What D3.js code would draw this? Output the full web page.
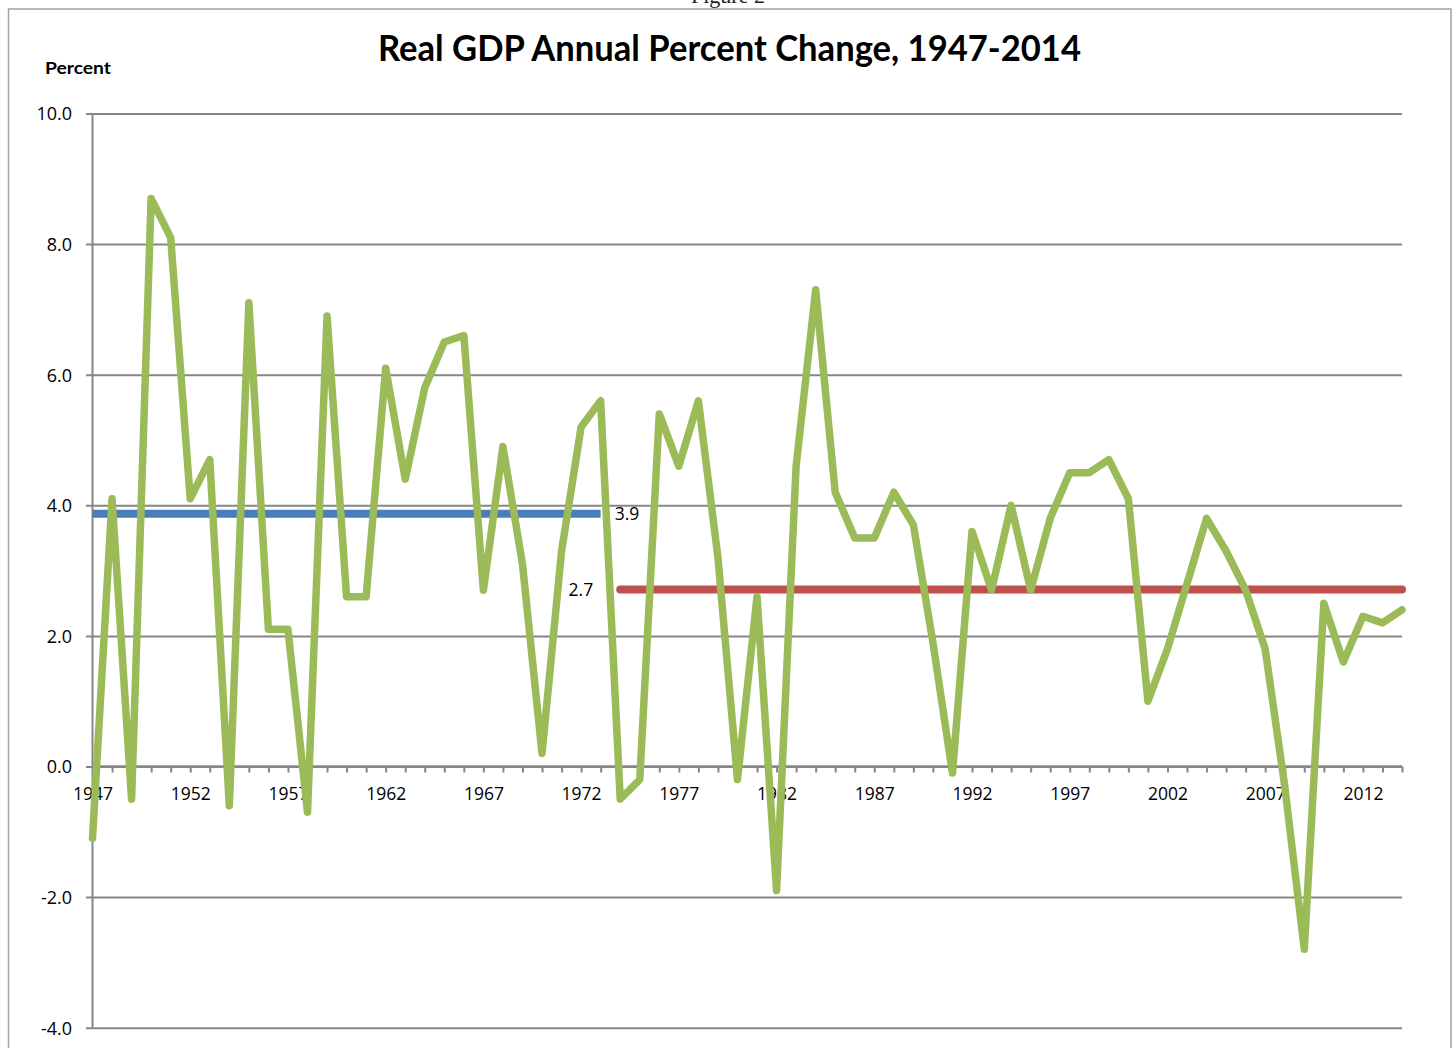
<!DOCTYPE html>
<html>
<head>
<meta charset="utf-8">
<script src="https://cdn.jsdelivr.net/npm/d3@7"></script>
<style>
  html, body { margin: 0; padding: 0; background: #fff; }
  svg { display: block; }
</style>
</head>
<body>
<svg id="chart" width="1456" height="1048"></svg>
<script>
const years = d3.range(1947, 2015);
const gdpChange = [
  -1.1, 4.1, -0.5, 8.7, 8.1, 4.1, 4.7, -0.6, 7.1, 2.1,
   2.1, -0.7, 6.9, 2.6, 2.6, 6.1, 4.4, 5.8, 6.5, 6.6,
   2.7, 4.9, 3.1, 0.2, 3.3, 5.2, 5.6, -0.5, -0.2, 5.4,
   4.6, 5.6, 3.2, -0.2, 2.6, -1.9, 4.6, 7.3, 4.2, 3.5,
   3.5, 4.2, 3.7, 1.9, -0.1, 3.6, 2.7, 4.0, 2.7, 3.8,
   4.5, 4.5, 4.7, 4.1, 1.0, 1.8, 2.8, 3.8, 3.3, 2.7,
   1.8, -0.3, -2.8, 2.5, 1.6, 2.3, 2.2, 2.4
];
const periodStart = [1947, 1974];
const periodEnd = [1973, 2014];
const periodAverage = [3.87, 2.71];
const periodLabels = ["3.9", "2.7"];
const yTicks = [-4, -2, 0, 2, 4, 6, 8, 10];
const yTickLabels = ["-4.0", "-2.0", "0.0", "2.0", "4.0", "6.0", "8.0", "10.0"];
const xTickLabels = [1947, 1952, 1957, 1962, 1967, 1972, 1977, 1982, 1987, 1992, 1997, 2002, 2007, 2012];

const svg = d3.select("#chart");
const axisColor = "#868686";
const font = "'Open Sans', sans-serif";
const titleFont = "Lato, 'Open Sans', sans-serif";

const x = d3.scaleLinear().domain([1947, 2014]).range([92.5, 1402]);
const y = d3.scaleLinear().domain([-4, 10]).range([1027.7, 113.5]);

// outer frame
svg.append("rect")
  .attr("x", 8.5).attr("y", 9).attr("width", 1442.5).attr("height", 1080)
  .attr("fill", "none").attr("stroke", "#a3a3a3").attr("stroke-width", 1.5);

// "Figure 2" cut off at top, as in the reference
svg.append("text")
  .attr("x", 728).attr("y", 3)
  .attr("text-anchor", "middle")
  .attr("font-family", "'Liberation Serif', serif")
  .attr("font-size", 22)
  .attr("fill", "#222")
  .text("Figure 2");

// title
svg.append("text")
  .attr("x", 729.5).attr("y", 61)
  .attr("text-anchor", "middle")
  .attr("font-family", titleFont)
  .attr("font-weight", "bold")
  .attr("font-size", 37)
  .attr("textLength", 703)
  .attr("lengthAdjust", "spacingAndGlyphs")
  .attr("fill", "#000")
  .text("Real GDP Annual Percent Change, 1947-2014");

svg.append("text")
  .attr("x", 45).attr("y", 73.5)
  .attr("font-family", titleFont)
  .attr("font-weight", "bold")
  .attr("font-size", 17.5)
  .attr("textLength", 66)
  .attr("lengthAdjust", "spacingAndGlyphs")
  .attr("fill", "#000")
  .text("Percent");

// y axis gridlines + ticks
const yAxis = d3.axisLeft(y)
  .tickValues(yTicks)
  .tickSize(-(x.range()[1] - x.range()[0]))
  .tickFormat((d, i) => yTickLabels[i]);
const gy = svg.append("g")
  .attr("transform", `translate(${x.range()[0]},0)`)
  .call(yAxis);
gy.select(".domain").remove();
gy.selectAll(".tick line").attr("stroke", axisColor).attr("stroke-width", 2).attr("x1", -6.5);
gy.selectAll(".tick text")
  .attr("font-family", font).attr("font-size", 18).attr("fill", "#000")
  .attr("x", -20.5).attr("dy", "0.36em");

// y axis line
svg.append("line")
  .attr("x1", x.range()[0]).attr("x2", x.range()[0])
  .attr("y1", y(10)).attr("y2", y(-4))
  .attr("stroke", axisColor).attr("stroke-width", 2);

// x axis at zero
const xAxis = d3.axisBottom(x)
  .tickValues(years)
  .tickSize(6)
  .tickFormat(d => xTickLabels.includes(d) ? String(d) : "");
const gx = svg.append("g")
  .attr("transform", `translate(0,${y(0)})`)
  .call(xAxis);
gx.select(".domain").attr("stroke", axisColor).attr("stroke-width", 2.5)
  .attr("d", `M${x.range()[0]},0H${x.range()[1]}`);
gx.selectAll(".tick line").attr("stroke", axisColor).attr("stroke-width", 2);
gx.selectAll(".tick text")
  .attr("font-family", font).attr("font-size", 17.5).attr("fill", "#000")
  .attr("y", 33.5).attr("dy", 0);

// average lines
const avgColors = ["#4a7ebb", "#c0504d"];
const avgCaps = ["butt", "round"];
periodAverage.forEach((v, i) => {
  svg.append("line")
    .attr("x1", x(periodStart[i])).attr("x2", x(periodEnd[i]))
    .attr("y1", y(v)).attr("y2", y(v))
    .attr("stroke", avgColors[i]).attr("stroke-width", 8)
    .attr("stroke-linecap", avgCaps[i]);
});

// green GDP line
const line = d3.line()
  .x((d, i) => x(years[i]))
  .y(d => y(d));
svg.append("path")
  .datum(gdpChange)
  .attr("d", line)
  .attr("fill", "none")
  .attr("stroke", "#9bbb59")
  .attr("stroke-width", 7.5)
  .attr("stroke-linejoin", "round")
  .attr("stroke-linecap", "round");

// average labels
svg.append("text")
  .attr("x", x(periodEnd[0]) + 14).attr("y", y(periodAverage[0]))
  .attr("dy", "0.36em")
  .attr("font-family", font).attr("font-size", 17.5).attr("fill", "#000")
  .text(periodLabels[0]);
svg.append("text")
  .attr("x", x(periodStart[1]) - 27).attr("y", y(periodAverage[1]))
  .attr("dy", "0.36em")
  .attr("text-anchor", "end")
  .attr("font-family", font).attr("font-size", 17.5).attr("fill", "#000")
  .text(periodLabels[1]);
</script>
</body>
</html>
